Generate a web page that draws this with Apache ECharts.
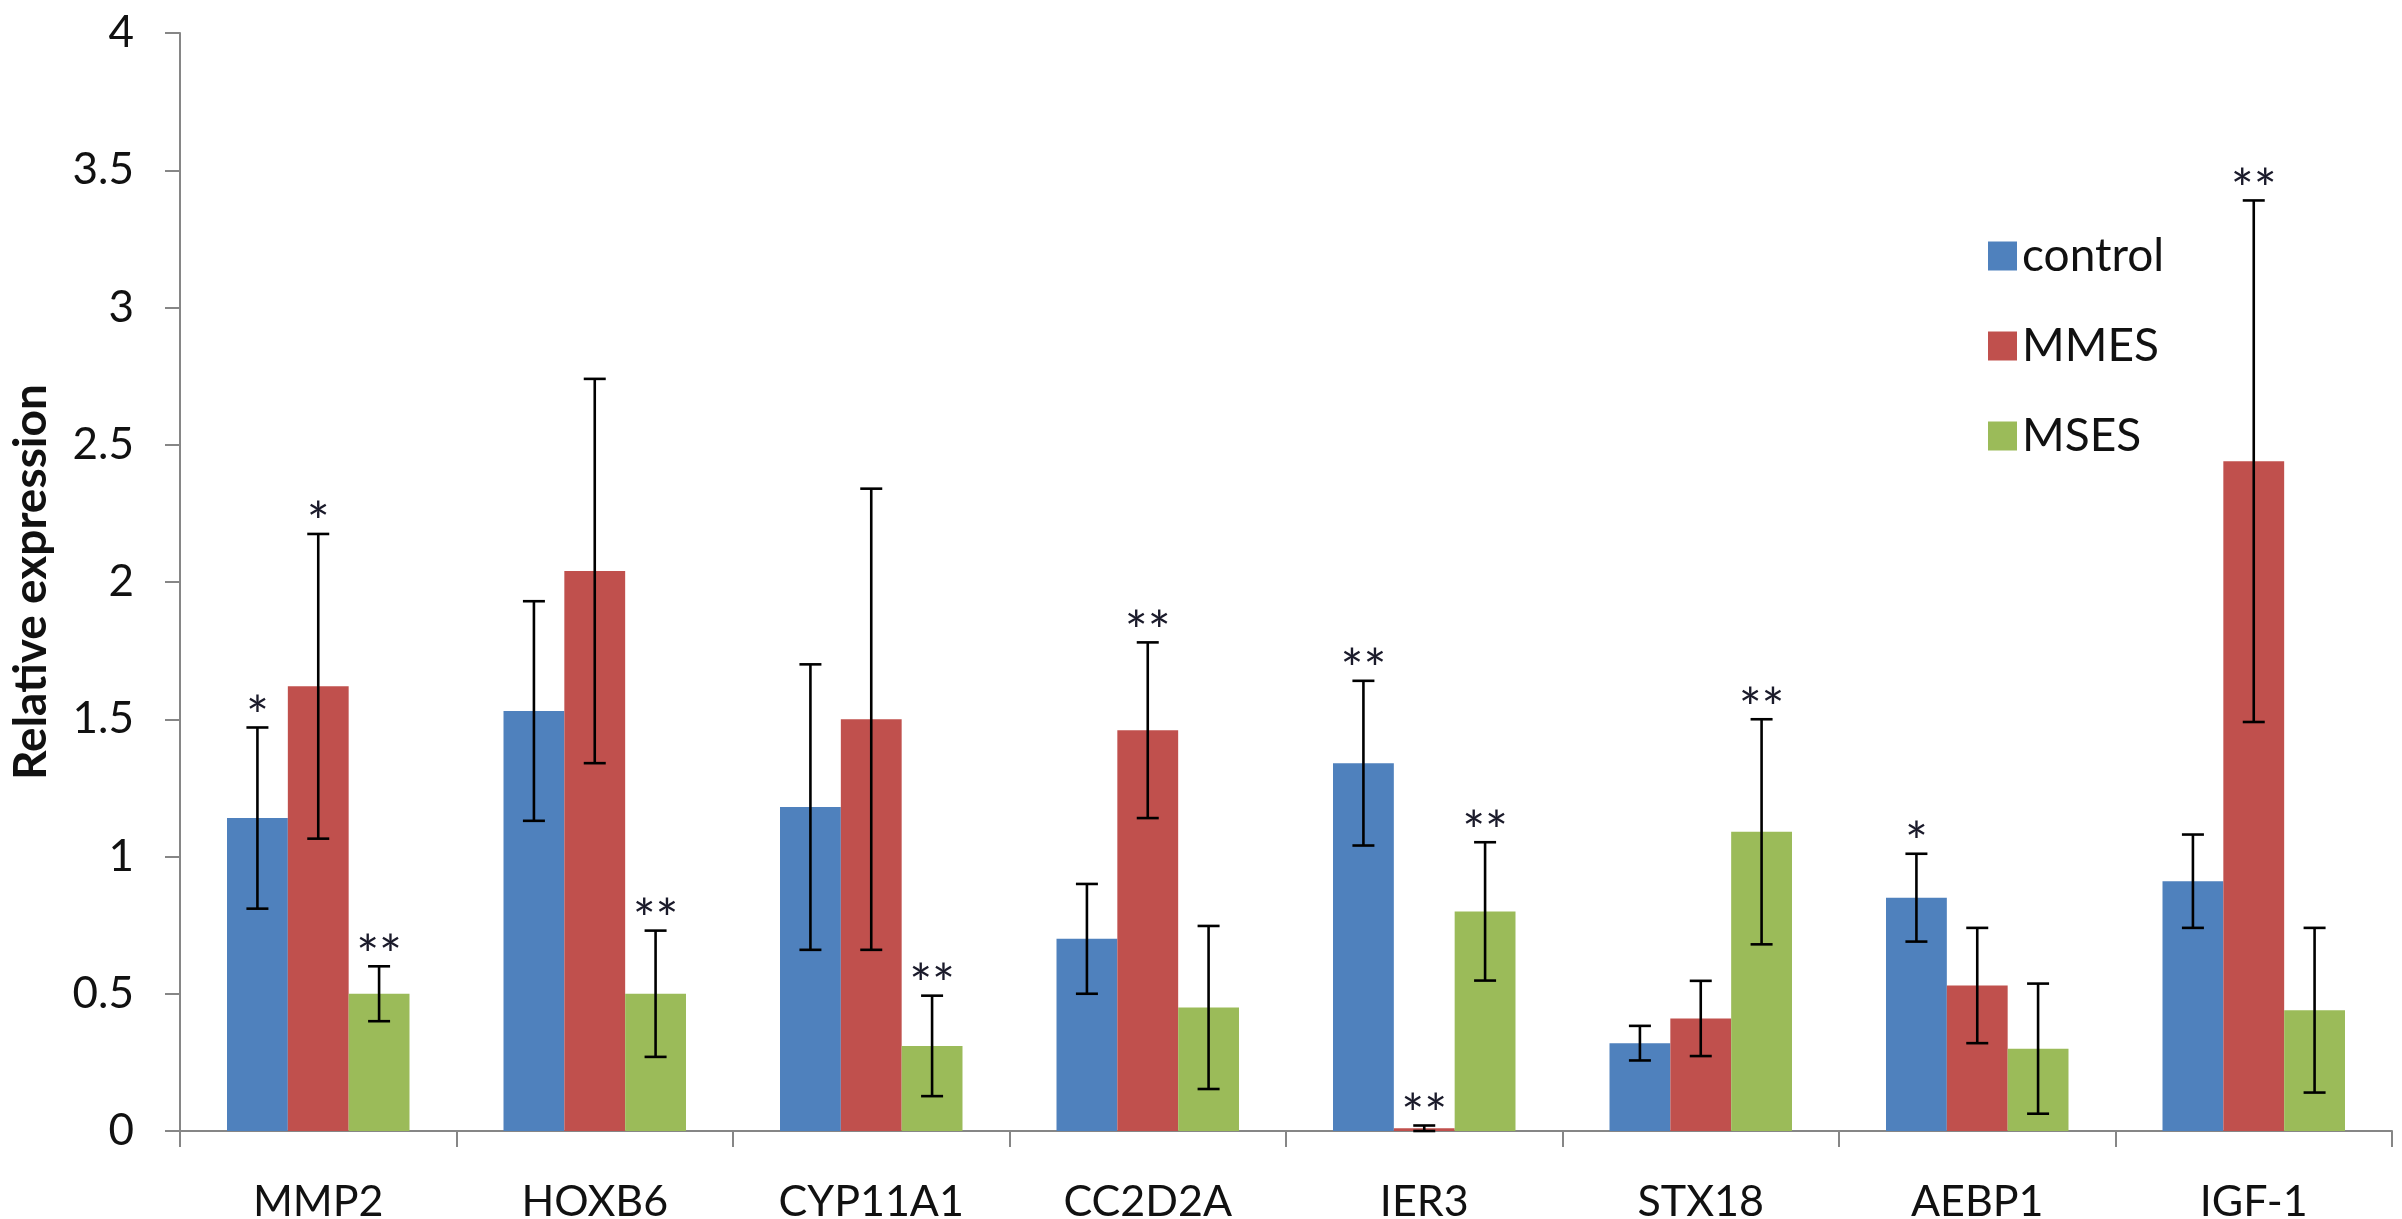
<!DOCTYPE html>
<html>
<head>
<meta charset="utf-8">
<title>Relative expression</title>
<script src="https://cdn.jsdelivr.net/npm/echarts@6/dist/echarts.min.js"></script>
<style>
  html, body { margin: 0; padding: 0; background: #fff; }
  #chart { width: 2402px; height: 1219px; }
</style>
</head>
<body>
<div id="chart"></div>
<script>
// data
var genes = ['MMP2', 'HOXB6', 'CYP11A1', 'CC2D2A', 'IER3', 'STX18', 'AEBP1', 'IGF-1'];
var groups = ['control', 'MMES', 'MSES'];

var controlVals = [1.14, 1.53, 1.18, 0.70, 1.34, 0.32, 0.85, 0.91];
var mmesVals    = [1.62, 2.04, 1.50, 1.46, 0.01, 0.41, 0.53, 2.44];
var msesVals    = [0.50, 0.50, 0.31, 0.45, 0.80, 1.09, 0.30, 0.44];

var controlErr = [0.33, 0.40, 0.52, 0.20, 0.30, 0.063, 0.16, 0.17];
var mmesErr    = [0.555, 0.70, 0.84, 0.32, 0.01, 0.137, 0.21, 0.95];
var msesErr    = [0.10, 0.23, 0.183, 0.297, 0.252, 0.41, 0.237, 0.30];

var controlSig = ['*', '', '', '', '**', '', '*', ''];
var mmesSig    = ['*', '', '', '**', '**', '', '', '**'];
var msesSig    = ['**', '**', '**', '', '**', '**', '', ''];

var yTicks = { min: 0, max: 4, interval: 0.5 };

var colors = ['#4F81BD', '#C0504D', '#9BBB59'];
var FONT = 'Lato, "Open Sans", sans-serif';
var CAT_GAP = 0.34;

var vals = [controlVals, mmesVals, msesVals];
var errs = [controlErr, mmesErr, msesErr];
var sigs = [controlSig, mmesSig, msesSig];

var chart = echarts.init(document.getElementById('chart'));

// error bars + significance stars, shifted onto each bar of the group
function errorSeries(k) {
    return {
        name: groups[k] + '_err',
        type: 'custom',
        z: 5,
        data: genes.map(function (g, i) { return [i, vals[k][i], errs[k][i]]; }),
        renderItem: function (params, api) {
            var idx = api.value(0), v = api.value(1), e = api.value(2);
            var catW = api.size([1, 0])[0];
            var barW = catW * (1 - CAT_GAP) / 3;
            var cx = api.coord([idx, v])[0] + (k - 1) * barW;
            var yTop = api.coord([idx, v + e])[1];
            var yBot = api.coord([idx, Math.max(v - e, 0)])[1];
            var cap = 11;
            var st = { stroke: '#000', lineWidth: 2.6 };
            var children = [
                { type: 'line', shape: { x1: cx, y1: yTop, x2: cx, y2: yBot }, style: st },
                { type: 'line', shape: { x1: cx - cap, y1: yTop, x2: cx + cap, y2: yTop }, style: st },
                { type: 'line', shape: { x1: cx - cap, y1: yBot, x2: cx + cap, y2: yBot }, style: st }
            ];
            var s = sigs[k][params.dataIndex];
            if (s) {
                children.push({
                    type: 'text',
                    style: {
                        text: s,
                        x: cx,
                        y: yTop - 10,
                        align: 'center',
                        verticalAlign: 'middle',
                        fill: '#1a1a2a',
                        font: '54px ' + FONT
                    }
                });
            }
            return { type: 'group', children: children };
        }
    };
}

var series = [];
groups.forEach(function (name, k) {
    series.push({
        name: name,
        type: 'bar',
        data: vals[k],
        barGap: '0%',
        barCategoryGap: (CAT_GAP * 100) + '%',
        itemStyle: { color: colors[k] }
    });
});
groups.forEach(function (name, k) { series.push(errorSeries(k)); });

chart.setOption({
    animation: false,
    color: colors,
    textStyle: { fontFamily: FONT },
    grid: { left: 180, right: 10, top: 33, bottom: 88, containLabel: false, outerBoundsMode: 'none' },
    legend: {
        data: groups,
        orient: 'vertical',
        left: 1983,
        top: 228,
        itemWidth: 29,
        itemHeight: 29,
        itemGap: 44,
        icon: 'rect',
        textStyle: { fontSize: 46, lineHeight: 44, color: '#111', fontFamily: FONT, padding: [0, 0, 0, 0] }
    },
    xAxis: {
        type: 'category',
        data: genes,
        axisLine: { lineStyle: { color: '#868686', width: 2 } },
        axisTick: { show: true, length: 16, lineStyle: { color: '#868686', width: 2 } },
        axisLabel: { fontSize: 43, color: '#111', margin: 50, fontFamily: FONT },
        splitLine: { show: false }
    },
    yAxis: {
        type: 'value',
        min: yTicks.min,
        max: yTicks.max,
        interval: yTicks.interval,
        name: 'Relative expression',
        nameLocation: 'middle',
        nameRotate: 90,
        nameGap: 126,
        nameTextStyle: { fontSize: 46, fontWeight: 'bold', color: '#111', fontFamily: FONT },
        axisLine: { show: true, lineStyle: { color: '#868686', width: 2 } },
        axisTick: { show: true, length: 15, lineStyle: { color: '#868686', width: 2 } },
        axisLabel: { fontSize: 44, color: '#111', margin: 46, fontFamily: FONT },
        splitLine: { show: false }
    },
    series: series
});
</script>
</body>
</html>
